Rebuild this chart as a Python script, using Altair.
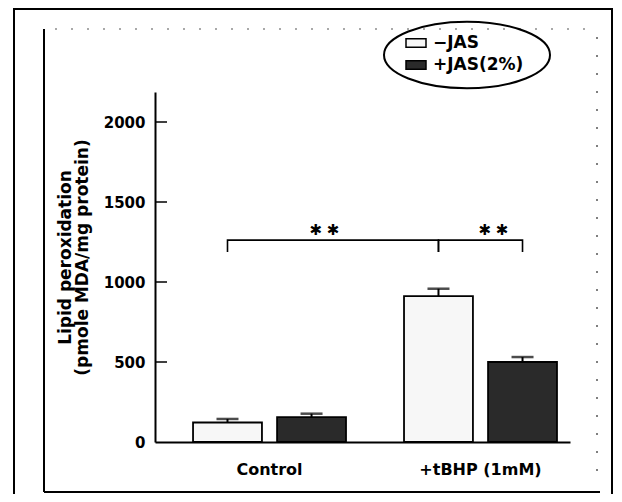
import altair as alt
import pandas as pd

# ---- data ----
groups = ["Control", "+tBHP (1mM)"]
series = ["\u2212JAS", "+JAS(2%)"]
mean_minus_jas = [122, 912]
mean_plus_jas = [155, 500]
err_minus_jas = [22, 46]
err_plus_jas = [22, 31]
y_ticks = [0, 500, 1000, 1500, 2000]
tick_marks = [500, 1000, 1500, 2000]
bracket_low = 1187
bracket_high = 1262
star_level = 1325
fill_colors = ["#f7f7f7", "#2a2a2a"]

FONT = "DejaVu Sans"

rows = []
for i, g in enumerate(groups):
    rows.append({"group": g, "series": series[0], "mean": mean_minus_jas[i],
                 "top": mean_minus_jas[i] + err_minus_jas[i]})
    rows.append({"group": g, "series": series[1], "mean": mean_plus_jas[i],
                 "top": mean_plus_jas[i] + err_plus_jas[i]})
bars_df = pd.DataFrame(rows)

brackets_df = pd.DataFrame([
    {"b": "A", "o": 0, "group": groups[0], "series": series[0], "v": bracket_low},
    {"b": "A", "o": 1, "group": groups[0], "series": series[0], "v": bracket_high},
    {"b": "A", "o": 2, "group": groups[1], "series": series[0], "v": bracket_high},
    {"b": "A", "o": 3, "group": groups[1], "series": series[0], "v": bracket_low},
    {"b": "B", "o": 0, "group": groups[1], "series": series[0], "v": bracket_low},
    {"b": "B", "o": 1, "group": groups[1], "series": series[0], "v": bracket_high},
    {"b": "B", "o": 2, "group": groups[1], "series": series[1], "v": bracket_high},
    {"b": "B", "o": 3, "group": groups[1], "series": series[1], "v": bracket_low},
])

stars_df = pd.DataFrame([{"group": groups[1], "series": series[0], "v": star_level}])
ticks_df = pd.DataFrame({"v": tick_marks})
one = pd.DataFrame({"k": [0]})

x_scale = alt.Scale(domain=groups, paddingInner=0.275, paddingOuter=0.121, align=0.745)
xo_scale = alt.Scale(domain=series, paddingInner=0.18, paddingOuter=0)
y_scale = alt.Scale(domain=[0, 2187.5], nice=False, zero=True)

X = alt.X("group:N", scale=x_scale, sort=groups,
          axis=alt.Axis(title=None, labelFont=FONT, labelFontSize=16, labelFontWeight="bold",
                        labelColor="black", labelAngle=0, labelPadding=19, ticks=False,
                        domainColor="black", domainWidth=2))
XO = alt.XOffset("series:N", scale=xo_scale, sort=series)
Y = alt.Y("mean:Q", scale=y_scale,
          axis=alt.Axis(values=y_ticks, format="d",
                        title=["Lipid peroxidation", "(pmole MDA/mg protein)"],
                        titleFont=FONT, titleFontSize=17, titleFontWeight="bold", titleColor="black",
                        titleLineHeight=17, titlePadding=12, titleY=165,
                        labelFont=FONT, labelFontSize=15, labelFontWeight="bold", labelColor="black",
                        labelPadding=10, tickSize=0, ticks=False, grid=False,
                        domainColor="black", domainWidth=2))

bars = alt.Chart(bars_df).mark_bar(stroke="black", strokeWidth=1.8).encode(
    x=X, xOffset=XO, y=Y,
    fill=alt.Fill("series:N", sort=series,
                  scale=alt.Scale(domain=series, range=fill_colors),
                  legend=alt.Legend(orient="none", legendX=250, legendY=-60, title=None,
                                    symbolType="M-1,-0.42H1V0.42H-1Z", symbolSize=400,
                                    symbolStrokeColor="black", symbolStrokeWidth=1.5,
                                    labelFont=FONT, labelFontSize=17, labelFontWeight="bold",
                                    labelColor="black", rowPadding=3, padding=0, labelOffset=6)),
)

err_rule = alt.Chart(bars_df).mark_rule(color="black", strokeWidth=2).encode(
    x=alt.X("group:N", scale=x_scale, sort=groups), xOffset=XO,
    y=alt.Y("mean:Q", scale=y_scale), y2="top:Q")

err_cap = alt.Chart(bars_df).mark_tick(color="black", size=22, thickness=2.5).encode(
    x=alt.X("group:N", scale=x_scale, sort=groups), xOffset=XO,
    y=alt.Y("top:Q", scale=y_scale))

brackets = alt.Chart(brackets_df).mark_line(color="black", strokeWidth=1.6).encode(
    x=alt.X("group:N", scale=x_scale, sort=groups), xOffset=XO,
    y=alt.Y("v:Q", scale=y_scale), detail="b:N", order="o:Q")

stars_left = alt.Chart(stars_df).mark_text(text="\u2731 \u2731", font=FONT, fontSize=15,
                                            color="black", dx=-114, baseline="middle").encode(
    x=alt.X("group:N", scale=x_scale, sort=groups), xOffset=XO,
    y=alt.Y("v:Q", scale=y_scale))
stars_right = alt.Chart(stars_df).mark_text(text="\u2731 \u2731", font=FONT, fontSize=15,
                                             color="black", dx=55, baseline="middle").encode(
    x=alt.X("group:N", scale=x_scale, sort=groups), xOffset=XO,
    y=alt.Y("v:Q", scale=y_scale))

inward_ticks = alt.Chart(ticks_df).mark_rule(color="black", strokeWidth=1.5).encode(
    y=alt.Y("v:Q", scale=y_scale), x=alt.value(0), x2=alt.value(12))


def seg(x1, x2, y1, y2, **kw):
    return alt.Chart(one).mark_rule(**kw).encode(
        x=alt.value(x1), x2=alt.value(x2), y=alt.value(y1), y2=alt.value(y2))


frames = [
    # outer frame
    seg(-141, 457, -83, -83, color="black", strokeWidth=2),
    seg(-141, -141, -84, 402, color="black", strokeWidth=2),
    seg(457, 457, -84, 402, color="black", strokeWidth=2),
    # inner frame
    seg(-111, -111, -63, 400, color="black", strokeWidth=2),
    seg(-111, 445, 400, 400, color="black", strokeWidth=2),
    seg(-100, 442, -63, -63, color="#555555", strokeWidth=1.2, strokeDash=[2, 14]),
    seg(442, 442, -55, 395, color="#555555", strokeWidth=1.5, strokeDash=[2, 16]),
]

ellipse = alt.Chart(one).mark_point(
    shape="M-1,0A1,0.4,0,1,1,1,0A1,0.4,0,1,1,-1,0Z", size=27556,
    filled=False, stroke="black", strokeWidth=2, opacity=1).encode(
    x=alt.value(312), y=alt.value(-37))

chart = alt.layer(
    *frames, ellipse, bars, err_rule, err_cap, brackets, stars_left, stars_right, inward_ticks
).properties(
    width=415, height=350,
    padding={"left": 147, "top": 84, "right": 44, "bottom": 52},
    autosize=alt.AutoSizeParams(type="none"),
    background="white",
).configure_view(stroke=None)

chart.save("out.html", embed_options={"renderer": "svg", "actions": False})
